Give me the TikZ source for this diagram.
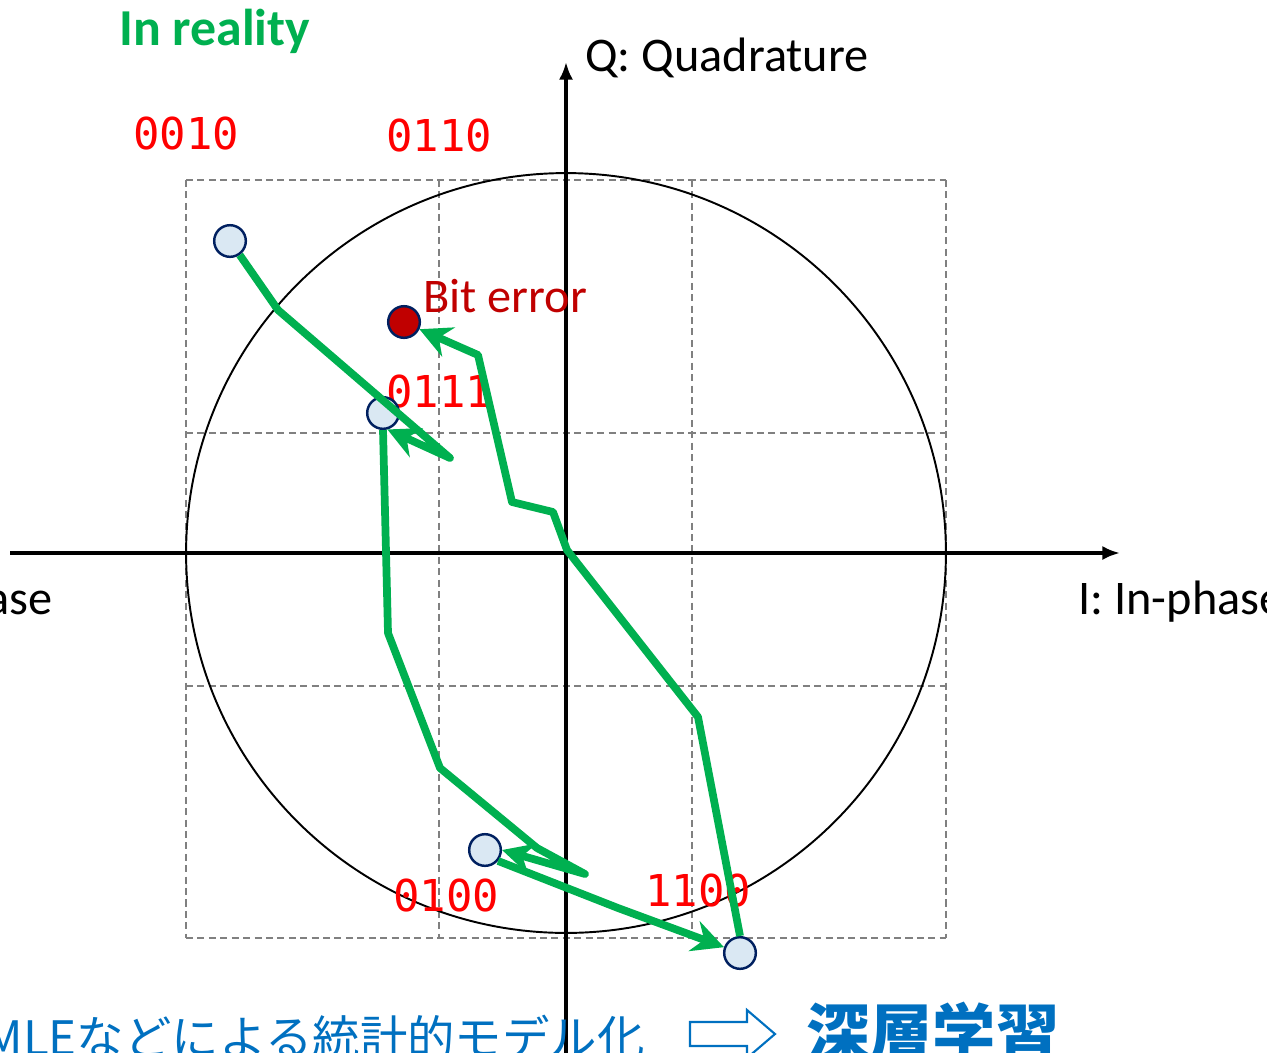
\documentclass[tikz,border=0pt]{standalone}
\usepackage{fontspec}
\setmainfont{Carlito}
\setmonofont{DejaVu Sans Mono}
\newfontfamily\cjk{Noto Sans CJK JP}
\usetikzlibrary{arrows.meta}
\definecolor{trgreen}{RGB}{0,176,80}
\definecolor{ptfill}{RGB}{218,232,243}
\definecolor{ptedge}{RGB}{0,32,96}
\definecolor{errred}{RGB}{192,0,0}
\definecolor{jpblue}{RGB}{0,112,192}
\definecolor{gridgray}{RGB}{128,128,128}

\begin{document}
\begin{tikzpicture}[x=0.02cm,y=-0.02cm,
    axis/.style={line width=2.3pt,-{Latex[length=10pt,width=8pt]}},
    gridline/.style={gridgray,line width=1.1pt,dash pattern=on 4pt off 2.5pt},
    symbol/.style={circle,draw=ptedge,line width=1.4pt,fill=ptfill,minimum size=18pt,inner sep=0pt},
    trace/.style={trgreen,line width=4.4pt,line join=round,-{Stealth[length=18pt,width=18pt,inset=6pt]}},
    bits/.style={text=red,font=\ttfamily\fontsize{25}{25}\selectfont,anchor=base west,inner sep=0pt},
    axislabel/.style={font=\fontsize{27.5}{27.5}\selectfont,anchor=base west,inner sep=0pt}]
    \useasboundingbox (0,0) rectangle (1267,1052);
    % Decision grid and unit circle
    \foreach \gx in {186,439,692,946}
        \draw[gridline] (\gx,180) -- (\gx,938);
    \foreach \gy in {180,433,686,938}
        \draw[gridline] (186,\gy) -- (946,\gy);
    \draw[line width=1.1pt] (566,553) circle[radius=7.6cm];
    % Axes
    \draw[axis] (10,553) -- (1120,553);
    \draw[axis] (566,1070) -- (566,62);
    \node[axislabel] (qlab) at (585,71) {Q: Quadrature};
    \node[axislabel] (ilab) at (1078,614) {I: In-phase};
    \node[axislabel,anchor=base east] (ilabl) at (53,614) {In-phase};
    \node[font=\bfseries\fontsize{29.5}{29.5}\selectfont,text=trgreen,anchor=base west,inner sep=0pt] (title) at (119,45) {In reality};
    % Bit labels
    \node[bits] (b0010) at (133,149) {0010};
    \node[bits] (b0110) at (386,151) {0110};
    \node[bits] (b0111) at (386,407) {0111};
    \node[bits] (b0100) at (393,911) {0100};
    \node[bits] (b1100) at (645,906) {1100};
    \node[axislabel,text=errred] (errlab) at (423,312) {Bit error};
    % Received symbols
    \node[symbol] (s0010) at (230,241) {};
    \node[symbol] (s0111) at (383,413) {};
    \node[symbol] (s0100) at (485,850) {};
    \node[symbol] (s1100) at (740,953) {};
    \node[symbol,fill=errred] (serr) at (404,322) {};
    % Trajectory between samples
    \draw[trace] (s0010) -- (278,310) -- (450,458) -- (s0111.-75);
    \draw[trace] (s0111.south) -- (388,633) -- (440,768) -- (537,848) -- (585,874) -- (s0100.east);
    \draw[trace] (s0100.-40) -- (618,908) -- (s1100.160);
    \draw[trace] (s1100.north) -- (698,717) -- (567,550) -- (553,512) -- (512,502) -- (478,355) -- (serr.-25);
    % Footer
    \node[font=\cjk\fontsize{27}{27}\selectfont,text=jpblue,anchor=base east,inner sep=0pt] (stat) at (645,1055) {MLEなどによる統計的モデル化};
    \draw[jpblue,line width=1.2pt] (690,1022) -- (747,1022) -- (747,1010) -- (775,1034) -- (747,1058) -- (747,1046) -- (690,1046) -- cycle;
    \node[font=\cjk\bfseries\fontsize{36}{36}\selectfont,text=jpblue,anchor=base west,inner sep=0pt] (deep) at (806,1056) {深層学習};
\end{tikzpicture}
\end{document}
